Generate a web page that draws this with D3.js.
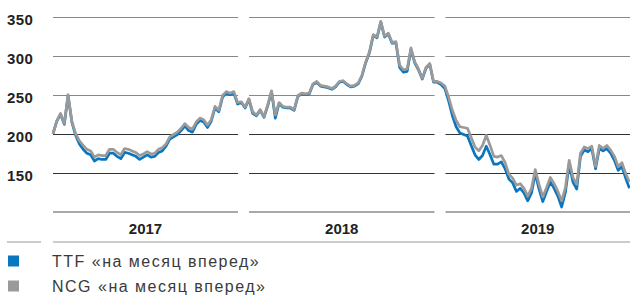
<!DOCTYPE html>
<html>
<head>
<meta charset="utf-8">
<script src="https://cdn.jsdelivr.net/npm/d3@7/dist/d3.min.js"></script>
<style>
  body { margin: 0; background: #fff; }
  svg { display: block; font-family: "Liberation Sans", Arial, sans-serif; }
</style>
</head>
<body>
<svg id="chart" width="630" height="296"></svg>
<script>
// weekly quotes, first week starting 12 Jan 2017
var startDate = new Date(2017, 0, 12);
var endDate = new Date(2019, 11, 20);
var years = ["2017", "2018", "2019"];
var yTicks = [150, 200, 250, 300, 350];
var legendLabels = ["TTF «на месяц вперед»", "NCG «на месяц вперед»"];

var ttf = [
  201, 217, 226, 213, 250, 216, 199, 188, 181, 176,
  174, 166, 169, 168, 168, 176, 176, 172, 169, 177,
  176, 174, 172, 168, 171, 174, 171, 172, 177, 179,
  185, 194, 197, 200, 205, 211, 205, 203, 213, 218,
  216, 209, 217, 234, 229, 248, 253, 251, 253, 239,
  241, 234, 245, 227, 224, 231, 222, 237, 255, 221,
  240, 235, 234, 234, 231, 249, 252, 251, 252, 264,
  267, 262, 261, 260, 258, 261, 267, 268, 264, 261,
  262, 265, 275, 292, 305, 327, 324, 344, 325, 329,
  317, 318, 286, 280, 281, 309, 292, 283, 271, 285,
  290, 267, 267, 264, 259, 243, 224, 210, 202, 200,
  198, 186, 174, 168, 173, 185, 174, 162, 162, 165,
  156, 143, 138, 127, 131, 125, 115, 125, 150, 130,
  114, 127, 139, 131, 121, 107, 126, 162, 139, 130,
  172, 180, 178, 182, 156, 182, 179, 182, 176, 167,
  154, 159, 144, 131
];

var ncg = [
  201, 217, 227, 214, 251, 217, 201, 192, 186, 181,
  179, 171, 174, 173, 173, 181, 181, 177, 174, 182,
  181, 179, 177, 173, 175, 178, 175, 176, 181, 183,
  188, 197, 200, 203, 208, 214, 209, 207, 216, 221,
  219, 212, 219, 236, 231, 250, 255, 253, 255, 241,
  242, 235, 246, 229, 225, 232, 223, 238, 256, 225,
  241, 236, 235, 235, 232, 250, 253, 252, 253, 265,
  268, 263, 262, 261, 259, 262, 268, 269, 265, 262,
  263, 266, 276, 293, 306, 328, 325, 345, 326, 330,
  318, 319, 289, 283, 284, 311, 293, 284, 272, 286,
  291, 268, 268, 266, 262, 248, 231, 218, 210, 209,
  208, 196, 184, 179, 186, 199, 186, 172, 171, 173,
  164, 149, 144, 135, 137, 131, 121, 131, 155, 136,
  120, 132, 145, 137, 127, 115, 132, 167, 145, 136,
  176, 184, 182, 185, 159, 186, 182, 186, 180, 172,
  159, 164, 150, 139
];

var colors = ["#0a76c0", "#9a9a9a"];

var svg = d3.select("#chart");
var width = 630;

var x = d3.scaleTime().domain([startDate, endDate]).range([53, width]);
var y = d3.scaleLinear().domain([150, 350]).range([173.5, 17.5]);

function toPoints(values) {
  return values.map(function (v, i) {
    return { date: d3.timeDay.offset(startDate, 7 * i), value: v };
  });
}

// year segments, split with a small gap at each new year
var gap = 5.5;
var yearStarts = years.slice(1).map(function (yr) { return x(new Date(+yr, 0, 1)); });
var segs = years.map(function (yr, i) {
  return {
    year: yr,
    x0: i === 0 ? x.range()[0] : yearStarts[i - 1] + gap,
    x1: i === years.length - 1 ? width : yearStarts[i] - gap
  };
});

// grid
yTicks.forEach(function (t) {
  svg.selectAll(null).data(segs).enter().append("line")
    .attr("x1", function (d) { return d.x0; })
    .attr("x2", function (d) { return d.x1; })
    .attr("y1", y(t)).attr("y2", y(t))
    .attr("stroke", t >= 250 ? "#888888" : "#333333")
    .attr("stroke-width", 1.2);
});

svg.selectAll(".ylab").data(yTicks).enter().append("text")
  .attr("class", "ylab")
  .attr("x", 7)
  .attr("y", function (d) { return y(d) + 1.5; })
  .attr("dominant-baseline", "central")
  .attr("font-size", 15)
  .attr("font-weight", "bold")
  .attr("letter-spacing", 0.4)
  .attr("fill", "#222")
  .text(function (d) { return d; });

// series
var line = d3.line()
  .x(function (d) { return x(d.date); })
  .y(function (d) { return y(d.value); });

[ttf, ncg].forEach(function (s, i) {
  svg.append("path")
    .datum(toPoints(s))
    .attr("fill", "none")
    .attr("stroke", colors[i])
    .attr("stroke-width", 2.7)
    .attr("stroke-linejoin", "round")
    .attr("d", line);
});

// year band
svg.selectAll(".yline").data(segs).enter().append("line")
  .attr("x1", function (d) { return d.x0; })
  .attr("x2", function (d) { return d.x1; })
  .attr("y1", 212).attr("y2", 212)
  .attr("stroke", "#555").attr("stroke-width", 1.2);

svg.selectAll(".ytxt").data(segs).enter().append("text")
  .attr("x", function (d) { return (d.x0 + d.x1) / 2; })
  .attr("y", 228)
  .attr("text-anchor", "middle")
  .attr("dominant-baseline", "central")
  .attr("font-size", 15)
  .attr("font-weight", "bold")
  .attr("fill", "#222")
  .text(function (d) { return d.year; });

svg.append("line").attr("x1", 53).attr("x2", width).attr("y1", 242).attr("y2", 242)
  .attr("stroke", "#999").attr("stroke-width", 1.2);
svg.append("line").attr("x1", 7).attr("x2", 41).attr("y1", 242).attr("y2", 242)
  .attr("stroke", "#999").attr("stroke-width", 1.2);

// legend
var leg = svg.selectAll(".leg").data(legendLabels).enter().append("g")
  .attr("transform", function (d, i) { return "translate(0," + (261 + i * 25) + ")"; });
leg.append("rect").attr("x", 8).attr("y", -5.5).attr("width", 11).attr("height", 11)
  .attr("fill", function (d, i) { return colors[i]; });
leg.append("text").attr("x", 52).attr("y", 0)
  .attr("dominant-baseline", "central")
  .attr("font-size", 16)
  .attr("letter-spacing", 1.5)
  .attr("fill", "#3a3a3a")
  .text(function (d) { return d; });
</script>
</body>
</html>
